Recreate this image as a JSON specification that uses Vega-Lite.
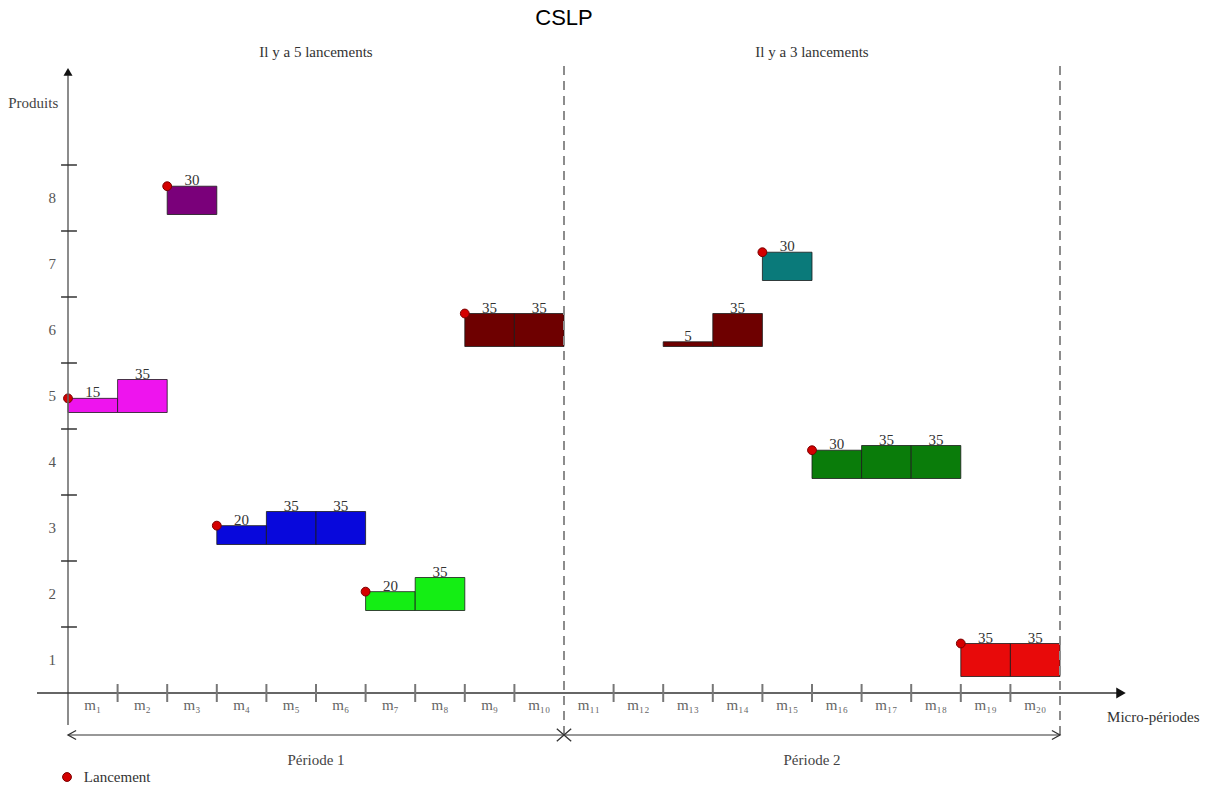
{
  "$schema": "https://vega.github.io/schema/vega-lite/v6.json",
  "width": 992,
  "height": 528,
  "autosize": {"type": "none"},
  "padding": {"left": 68, "top": 165, "right": 147, "bottom": 96},
  "background": "white",
  "config": {
    "view": {"stroke": null},
    "axis": {"disable": true},
    "legend": {"disable": true}
  },
  "resolve": {"scale": {"x": "independent", "y": "independent"}},
  "layer": [
    {
      "data": {
        "values": [
          {"product": 8, "m": "m3", "qty": 30, "launch": true},
          {"product": 5, "m": "m1", "qty": 15, "launch": true},
          {"product": 5, "m": "m2", "qty": 35, "launch": false},
          {"product": 3, "m": "m4", "qty": 20, "launch": true},
          {"product": 3, "m": "m5", "qty": 35, "launch": false},
          {"product": 3, "m": "m6", "qty": 35, "launch": false},
          {"product": 2, "m": "m7", "qty": 20, "launch": true},
          {"product": 2, "m": "m8", "qty": 35, "launch": false},
          {"product": 6, "m": "m9", "qty": 35, "launch": true},
          {"product": 6, "m": "m10", "qty": 35, "launch": false},
          {"product": 6, "m": "m13", "qty": 5, "launch": false},
          {"product": 6, "m": "m14", "qty": 35, "launch": false},
          {"product": 7, "m": "m15", "qty": 30, "launch": true},
          {"product": 4, "m": "m16", "qty": 30, "launch": true},
          {"product": 4, "m": "m17", "qty": 35, "launch": false},
          {"product": 4, "m": "m18", "qty": 35, "launch": false},
          {"product": 1, "m": "m19", "qty": 35, "launch": true},
          {"product": 1, "m": "m20", "qty": 35, "launch": false}
        ]
      },
      "layer": [
        {
          "mark": {"type": "bar", "orient": "horizontal", "baseline": "bottom", "stroke": "#1a1a1a", "strokeWidth": 0.8, "opacity": 1},
          "encoding": {
            "x": {"field": "m", "type": "ordinal", "axis": null, "scale": {"domain": ["m1","m2","m3","m4","m5","m6","m7","m8","m9","m10","m11","m12","m13","m14","m15","m16","m17","m18","m19","m20"], "paddingInner": 0, "paddingOuter": 0}},
            "y": {"field": "product", "type": "ordinal", "axis": null, "scale": {"domain": [8,7,6,5,4,3,2,1], "range": [49.5, 577.5], "paddingInner": 0, "paddingOuter": 0}},
            "size": {"field": "qty", "type": "quantitative", "legend": null, "scale": {"domain": [0, 35], "range": [0, 33]}},
            "color": {"field": "product", "type": "nominal", "legend": null, "scale": {"domain": [1,2,3,4,5,6,7,8], "range": ["#e80a0a","#14ee14","#0808dc","#0a7c0a","#ee14ee","#6e0000","#0a7a7a","#7a007a"]}}
          }
        },
        {
          "mark": {"type": "text", "font": "Liberation Serif", "fontSize": 15, "color": "#333333", "baseline": "alphabetic", "dy": -1},
          "encoding": {
            "x": {"field": "m", "type": "ordinal", "axis": null},
            "y": {"field": "product", "type": "ordinal", "axis": null},
            "yOffset": {"field": "qty", "type": "quantitative", "scale": {"domain": [0, 35], "range": [0, -33]}},
            "text": {"field": "qty", "type": "quantitative"}
          }
        },
        {
          "transform": [{"filter": "datum.launch"}],
          "mark": {"type": "point", "shape": "circle", "filled": true, "size": 78, "color": "#d40000", "stroke": "#7a0000", "strokeWidth": 1, "opacity": 1},
          "encoding": {
            "x": {"field": "m", "type": "ordinal", "bandPosition": 0, "axis": null},
            "y": {"field": "product", "type": "ordinal", "axis": null},
            "yOffset": {"field": "qty", "type": "quantitative"}
          }
        }
      ]
    },
    {
      "data": {
        "values": [
          {"m": "m1", "label": "m₁"}, {"m": "m2", "label": "m₂"}, {"m": "m3", "label": "m₃"}, {"m": "m4", "label": "m₄"},
          {"m": "m5", "label": "m₅"}, {"m": "m6", "label": "m₆"}, {"m": "m7", "label": "m₇"}, {"m": "m8", "label": "m₈"},
          {"m": "m9", "label": "m₉"}, {"m": "m10", "label": "m₁₀"}, {"m": "m11", "label": "m₁₁"}, {"m": "m12", "label": "m₁₂"},
          {"m": "m13", "label": "m₁₃"}, {"m": "m14", "label": "m₁₄"}, {"m": "m15", "label": "m₁₅"}, {"m": "m16", "label": "m₁₆"},
          {"m": "m17", "label": "m₁₇"}, {"m": "m18", "label": "m₁₈"}, {"m": "m19", "label": "m₁₉"}, {"m": "m20", "label": "m₂₀"}
        ]
      },
      "mark": {"type": "text", "font": "Liberation Serif", "fontSize": 15, "color": "#666666", "baseline": "middle", "align": "center"},
      "encoding": {
        "x": {"field": "m", "type": "ordinal", "axis": null, "scale": {"domain": ["m1","m2","m3","m4","m5","m6","m7","m8","m9","m10","m11","m12","m13","m14","m15","m16","m17","m18","m19","m20"], "paddingInner": 0, "paddingOuter": 0}},
        "y": {"datum": 0.32, "type": "quantitative", "axis": null, "scale": {"domain": [0.5, 8.5], "nice": false, "zero": false}},
        "text": {"field": "label"}
      }
    },
    {
      "layer": [
        {
          "data": {"values": [{"t": "CSLP"}]},
          "mark": {"type": "text", "font": "Liberation Sans", "fontSize": 22, "color": "#000000", "align": "center", "baseline": "middle"},
          "encoding": {
            "x": {"datum": 10.0, "type": "quantitative", "axis": null, "scale": {"domain": [0, 20], "nice": false, "zero": false}},
            "y": {"datum": 10.73, "type": "quantitative", "axis": null, "scale": {"domain": [0.5, 8.5], "nice": false, "zero": false}},
            "text": {"field": "t"}
          }
        },
        {
          "data": {"values": [{"k": 5, "t": "Il y a 5 lancements"}, {"k": 15, "t": "Il y a 3 lancements"}]},
          "mark": {"type": "text", "font": "Liberation Serif", "fontSize": 15, "color": "#333333", "align": "center", "baseline": "middle"},
          "encoding": {
            "x": {"field": "k", "type": "quantitative"},
            "y": {"datum": 10.21, "type": "quantitative"},
            "text": {"field": "t"}
          }
        },
        {
          "data": {"values": [{"k": 10}, {"k": 20}]},
          "mark": {"type": "rule", "stroke": "#8c8c8c", "strokeWidth": 2, "strokeDash": [9, 6]},
          "encoding": {
            "x": {"field": "k", "type": "quantitative"},
            "y": {"datum": 10.0, "type": "quantitative"},
            "y2": {"datum": -0.17}
          }
        },
        {
          "data": {"values": [{"axe": "Produits"}]},
          "mark": {"type": "rule", "stroke": "#666666", "strokeWidth": 1.5},
          "encoding": {
            "x": {"datum": 0, "type": "quantitative"},
            "y": {"datum": 9.86, "type": "quantitative"},
            "y2": {"datum": 0.015}
          }
        },
        {
          "data": {"values": [{"axe": "Produits"}]},
          "mark": {"type": "point", "shape": "triangle-up", "filled": true, "size": 81, "color": "#111111", "opacity": 1},
          "encoding": {
            "x": {"datum": 0, "type": "quantitative"},
            "y": {"datum": 9.91, "type": "quantitative"}
          }
        },
        {
          "data": {"values": [{"p": 1.5}, {"p": 2.5}, {"p": 3.5}, {"p": 4.5}, {"p": 5.5}, {"p": 6.5}, {"p": 7.5}, {"p": 8.5}]},
          "mark": {"type": "rule", "stroke": "#333333", "strokeWidth": 1.5},
          "encoding": {
            "y": {"field": "p", "type": "quantitative"},
            "x": {"datum": -0.14, "type": "quantitative"},
            "x2": {"datum": 0.18}
          }
        },
        {
          "data": {"values": [{"product": 1}, {"product": 2}, {"product": 3}, {"product": 4}, {"product": 5}, {"product": 6}, {"product": 7}, {"product": 8}]},
          "mark": {"type": "text", "font": "Liberation Serif", "fontSize": 15, "color": "#555555", "align": "center", "baseline": "middle"},
          "encoding": {
            "y": {"field": "product", "type": "quantitative"},
            "x": {"datum": -0.32, "type": "quantitative"},
            "text": {"field": "product", "type": "quantitative"}
          }
        },
        {
          "data": {"values": [{"t": "Produits"}]},
          "mark": {"type": "text", "font": "Liberation Serif", "fontSize": 15, "color": "#444444", "align": "center", "baseline": "middle"},
          "encoding": {
            "x": {"datum": -0.7, "type": "quantitative"},
            "y": {"datum": 9.44, "type": "quantitative"},
            "text": {"field": "t"}
          }
        },
        {
          "data": {"values": [{"axe": "Micro-périodes"}]},
          "mark": {"type": "rule", "stroke": "#333333", "strokeWidth": 1.5},
          "encoding": {
            "y": {"datum": 0.5, "type": "quantitative"},
            "x": {"datum": -0.625, "type": "quantitative"},
            "x2": {"datum": 21.15}
          }
        },
        {
          "data": {"values": [{"axe": "Micro-périodes"}]},
          "mark": {"type": "point", "shape": "triangle-right", "filled": true, "size": 121, "color": "#111111", "opacity": 1},
          "encoding": {
            "x": {"datum": 21.23, "type": "quantitative"},
            "y": {"datum": 0.5, "type": "quantitative"}
          }
        },
        {
          "data": {"values": [{"k": 1}, {"k": 2}, {"k": 3}, {"k": 4}, {"k": 5}, {"k": 6}, {"k": 7}, {"k": 8}, {"k": 9}, {"k": 11}, {"k": 12}, {"k": 13}, {"k": 14}, {"k": 15}, {"k": 16}, {"k": 17}, {"k": 18}, {"k": 19}]},
          "mark": {"type": "rule", "stroke": "#777777", "strokeWidth": 2},
          "encoding": {
            "x": {"field": "k", "type": "quantitative"},
            "y": {"datum": 0.636, "type": "quantitative"},
            "y2": {"datum": 0.364}
          }
        },
        {
          "data": {"values": [{"periode": "Période 1"}]},
          "mark": {"type": "rule", "stroke": "#333333", "strokeWidth": 1.2},
          "encoding": {
            "y": {"datum": -0.136, "type": "quantitative"},
            "x": {"datum": 0, "type": "quantitative"},
            "x2": {"datum": 20}
          }
        },
        {
          "data": {"values": [{"k": 0, "s": "gauche"}, {"k": 10, "s": "croix"}, {"k": 20, "s": "droite"}]},
          "mark": {"type": "point", "filled": false, "size": 81, "stroke": "#333333", "strokeWidth": 1.3, "opacity": 1},
          "encoding": {
            "x": {"field": "k", "type": "quantitative"},
            "y": {"datum": -0.136, "type": "quantitative"},
            "shape": {"field": "s", "type": "nominal", "legend": null, "scale": {"domain": ["gauche", "croix", "droite"], "range": ["M1.8,-1L0,0L1.8,1", "M-1.6,-1.4L1.6,1.4M-1.6,1.4L1.6,-1.4", "M-1.8,-1L0,0L-1.8,1"]}}
          }
        },
        {
          "data": {"values": [{"k": 5, "t": "Période 1"}, {"k": 15, "t": "Période 2"}]},
          "mark": {"type": "text", "font": "Liberation Serif", "fontSize": 15, "color": "#444444", "align": "center", "baseline": "middle"},
          "encoding": {
            "x": {"field": "k", "type": "quantitative"},
            "y": {"datum": -0.515, "type": "quantitative"},
            "text": {"field": "t"}
          }
        },
        {
          "data": {"values": [{"t": "Lancement"}]},
          "mark": {"type": "point", "shape": "circle", "filled": true, "size": 78, "color": "#d40000", "stroke": "#7a0000", "strokeWidth": 1, "opacity": 1},
          "encoding": {
            "x": {"datum": -0.02, "type": "quantitative"},
            "y": {"datum": -0.773, "type": "quantitative"}
          }
        },
        {
          "data": {"values": [{"t": "Lancement"}]},
          "mark": {"type": "text", "font": "Liberation Serif", "fontSize": 15, "color": "#333333", "align": "left", "baseline": "middle"},
          "encoding": {
            "x": {"datum": 0.32, "type": "quantitative"},
            "y": {"datum": -0.78, "type": "quantitative"},
            "text": {"field": "t"}
          }
        },
        {
          "data": {"values": [{"t": "Micro-périodes"}]},
          "mark": {"type": "text", "font": "Liberation Serif", "fontSize": 15, "color": "#333333", "align": "left", "baseline": "middle"},
          "encoding": {
            "x": {"datum": 20.95, "type": "quantitative"},
            "y": {"datum": 0.136, "type": "quantitative"},
            "text": {"field": "t"}
          }
        }
      ]
    }
  ]
}
